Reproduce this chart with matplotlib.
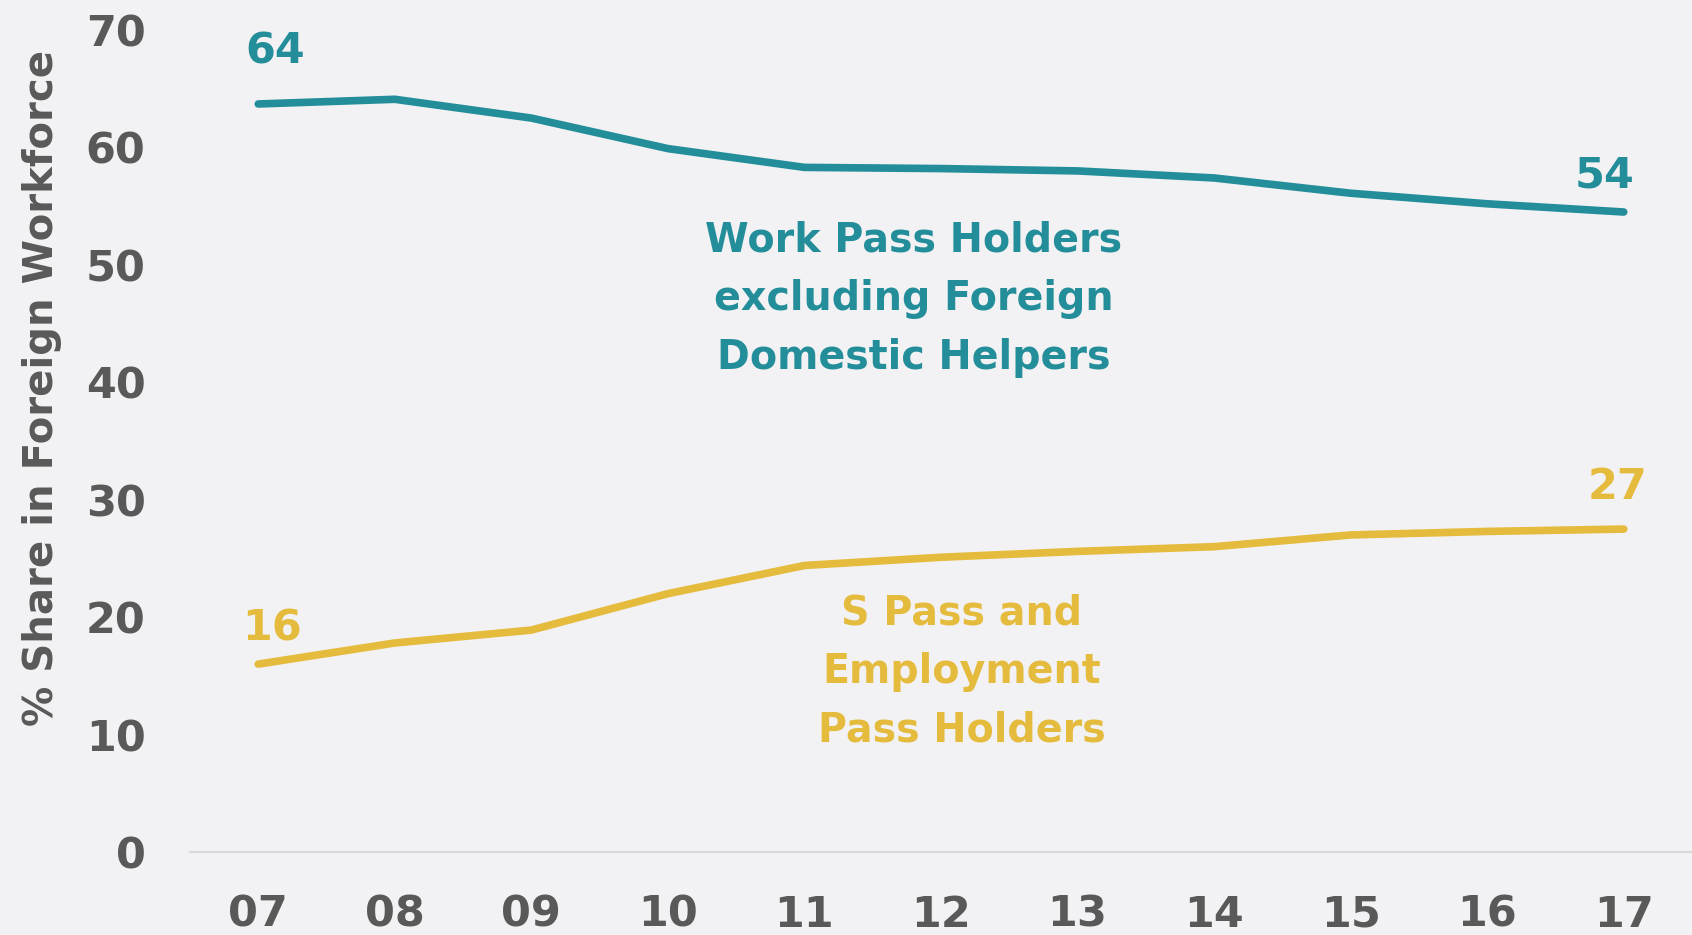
import matplotlib
matplotlib.use("Agg")
import matplotlib.pyplot as plt

years = [7, 8, 9, 10, 11, 12, 13, 14, 15, 16, 17]
year_labels = ["07", "08", "09", "10", "11", "12", "13", "14", "15", "16", "17"]
work_pass = [63.7, 64.1, 62.5, 59.9, 58.3, 58.2, 58.0, 57.4, 56.1, 55.2, 54.5]
s_pass_ep = [16.0, 17.8, 18.9, 22.0, 24.4, 25.1, 25.6, 26.0, 27.0, 27.3, 27.5]
work_pass_ends = ["64", "54"]
s_pass_ends = ["16", "27"]

TEAL = "#238e9a"
GOLD = "#e5bb3d"
GREY = "#595959"
BG = "#f2f2f4"

plt.rcParams["font.family"] = ["DejaVu Sans"]
plt.rcParams["font.weight"] = "bold"

fig = plt.figure(figsize=(16.92, 9.35), dpi=100, facecolor=BG)
ax = fig.add_axes([190 / 1692, 83 / 935, 1 - 190 / 1692, 822 / 935])
ax.set_facecolor(BG)

ax.plot(years, work_pass, color=TEAL, lw=5.5, solid_capstyle="round", solid_joinstyle="round")
ax.plot(years, s_pass_ep, color=GOLD, lw=5.5, solid_capstyle="round", solid_joinstyle="round")

# end-point labels
lab_fs = 31
ax.annotate(work_pass_ends[0], (years[0], work_pass[0]), xytext=(17, 52), textcoords="offset pixels",
            ha="center", va="center", color=TEAL, fontsize=lab_fs, fontweight="bold")
ax.annotate(work_pass_ends[1], (years[-1], work_pass[-1]), xytext=(-19, 37), textcoords="offset pixels",
            ha="center", va="center", color=TEAL, fontsize=lab_fs, fontweight="bold")
ax.annotate(s_pass_ends[0], (years[0], s_pass_ep[0]), xytext=(14, 36), textcoords="offset pixels",
            ha="center", va="center", color=GOLD, fontsize=lab_fs, fontweight="bold")
ax.annotate(s_pass_ends[1], (years[-1], s_pass_ep[-1]), xytext=(-6, 42), textcoords="offset pixels",
            ha="center", va="center", color=GOLD, fontsize=lab_fs, fontweight="bold")

ax.text(11.8, 47.1, "Work Pass Holders\nexcluding Foreign\nDomestic Helpers", ha="center", va="center",
        color=TEAL, fontsize=28.5, fontweight="bold", linespacing=1.6)
ax.text(12.15, 15.3, "S Pass and\nEmployment\nPass Holders", ha="center", va="center",
        color=GOLD, fontsize=28.5, fontweight="bold", linespacing=1.6)

ax.set_xlim(6.5, 17.5)
ax.set_ylim(0, 70)
ax.set_xticks(years)
ax.set_xticklabels(year_labels)
ax.set_yticks(range(0, 71, 10))
ax.tick_params(axis="both", length=0, labelsize=31, labelcolor=GREY)
ax.tick_params(axis="x", pad=30)
ax.tick_params(axis="y", pad=32)
for lab in ax.get_xticklabels() + ax.get_yticklabels():
    lab.set_fontweight("bold")

for s in ["top", "right", "left"]:
    ax.spines[s].set_visible(False)
ax.spines["bottom"].set_color("#d9d9d9")
ax.spines["bottom"].set_linewidth(1.5)

ax.set_ylabel("% Share in Foreign Workforce", fontsize=29, color=GREY, fontweight="bold")
ax.yaxis.set_label_coords(-128 / 1502, 0.565)

fig.savefig("out.png", dpi=100, facecolor=BG)
